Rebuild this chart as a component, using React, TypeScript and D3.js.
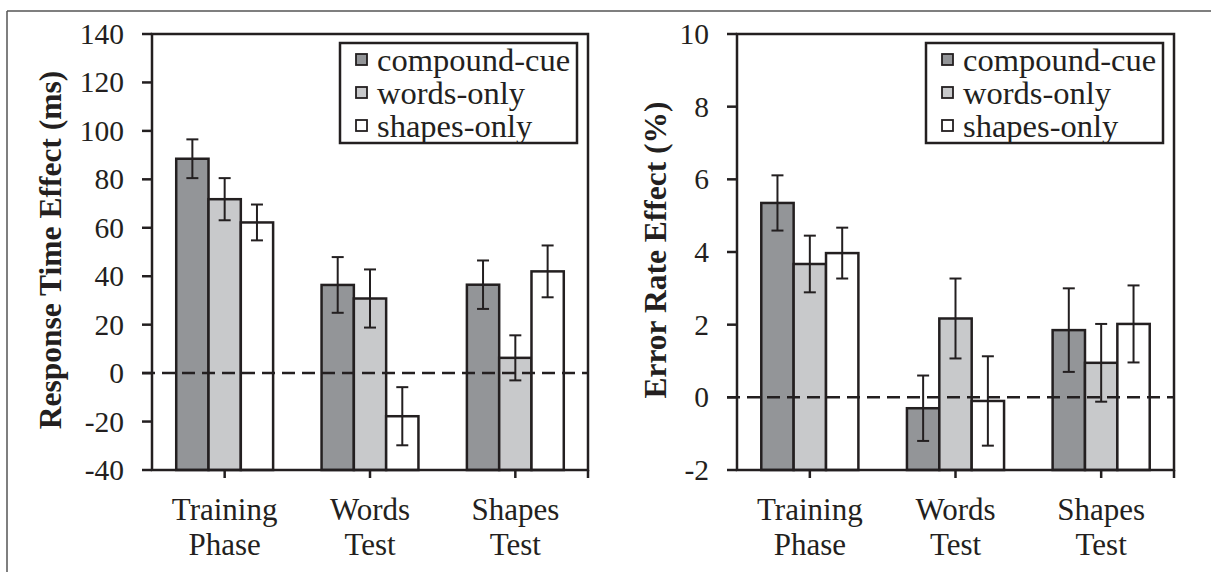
import React from "react";
import * as d3 from "d3";

const categories = ["Training Phase", "Words Test", "Shapes Test"];
const seriesNames = ["compound-cue", "words-only", "shapes-only"];
const seriesColors = ["#939598", "#c8c9cb", "#ffffff"];

// response time effect (ms)
const rtCompound = [88.5, 36.4, 36.5];
const rtWords = [71.8, 30.8, 6.3];
const rtShapes = [62.2, -17.8, 42.0];
const rtCompoundErr = [8.0, 11.5, 10.0];
const rtWordsErr = [8.7, 12.0, 9.3];
const rtShapesErr = [7.4, 12.0, 10.7];
const rtTicks = [-40, -20, 0, 20, 40, 60, 80, 100, 120, 140];

// error rate effect (%)
const erCompound = [5.35, -0.3, 1.85];
const erWords = [3.67, 2.17, 0.95];
const erShapes = [3.97, -0.1, 2.02];
const erCompoundErr = [0.76, 0.9, 1.15];
const erWordsErr = [0.78, 1.1, 1.07];
const erShapesErr = [0.7, 1.23, 1.06];
const erTicks = [-2, 0, 2, 4, 6, 8, 10];

const FONT = "Liberation Serif, Tinos, Times, DejaVu Serif, serif";
const INK = "#231f20";

type PanelProps = {
  left: number;
  right: number;
  top: number;
  bottom: number;
  domain: [number, number];
  ticks: number[];
  title: string;
  titleX: number;
  values: number[][];
  errors: number[][];
};

function Panel(props: PanelProps) {
  const { left, right, top, bottom, domain, ticks, title, titleX, values, errors } = props;
  const y = d3.scaleLinear().domain(domain).range([bottom, top]);
  const x0 = d3.scaleBand().domain(categories).range([left, right]).padding(0);
  const bw = x0.bandwidth();
  // gap width 50% -> bars fill the middle two thirds of each category
  const x1 = d3
    .scaleBand()
    .domain(seriesNames)
    .range([bw / 6, (bw * 5) / 6])
    .padding(0);

  const legendW = 237;
  const legendX = right - 11 - legendW;
  const legendY = top + 9;
  const yb = y(domain[0]);

  return (
    <g>
      {/* bars, drawn up from the axis minimum like excel */}
      {categories.map((c, ci) => (
        <g key={c} transform={`translate(${x0(c)},0)`}>
          {seriesNames.map((s, si) => {
            const yTop = y(values[si][ci]);
            return (
              <rect
                key={s}
                x={x1(s)}
                y={yTop}
                width={x1.bandwidth()}
                height={yb - yTop}
                fill={seriesColors[si]}
                stroke={INK}
                strokeWidth={2.5}
              />
            );
          })}
        </g>
      ))}

      {/* zero line */}
      <line
        x1={left - 10}
        x2={right}
        y1={y(0)}
        y2={y(0)}
        stroke={INK}
        strokeWidth={2.5}
        strokeDasharray="13,7"
      />

      {/* error bars */}
      {categories.map((c, ci) => (
        <g key={c + "err"} transform={`translate(${x0(c)},0)`}>
          {seriesNames.map((s, si) => {
            const cx = (x1(s) as number) + x1.bandwidth() / 2;
            const v = values[si][ci];
            const e = errors[si][ci];
            return (
              <g key={s} stroke={INK} strokeWidth={2}>
                <line x1={cx} x2={cx} y1={y(v + e)} y2={y(v - e)} />
                <line x1={cx - 6} x2={cx + 6} y1={y(v + e)} y2={y(v + e)} />
                <line x1={cx - 6} x2={cx + 6} y1={y(v - e)} y2={y(v - e)} />
              </g>
            );
          })}
        </g>
      ))}

      {/* frame */}
      <rect
        x={left}
        y={top}
        width={right - left}
        height={bottom - top}
        fill="none"
        stroke={INK}
        strokeWidth={2.5}
      />

      {/* y ticks */}
      {ticks.map((t) => (
        <g key={t}>
          <line x1={left - 10} x2={left} y1={y(t)} y2={y(t)} stroke={INK} strokeWidth={2.5} />
          <text
            x={left - 28}
            y={y(t)}
            dy="0.34em"
            textAnchor="end"
            style={{ fontFamily: FONT, fontWeight: 400 }}
            fontSize={29.5}
            fill={INK}
          >
            {t}
          </text>
        </g>
      ))}

      {/* x ticks */}
      {categories.map((c) => (
        <line
          key={c + "tick"}
          x1={(x0(c) as number) + bw / 2}
          x2={(x0(c) as number) + bw / 2}
          y1={bottom}
          y2={bottom + 8}
          stroke={INK}
          strokeWidth={2.5}
        />
      ))}
      <line x1={right} x2={right} y1={bottom} y2={bottom + 8} stroke={INK} strokeWidth={2.5} />

      {/* x labels */}
      {categories.map((c) => {
        const parts = c.split(" ");
        return (
          <text
            key={c + "lbl"}
            x={(x0(c) as number) + bw / 2}
            y={bottom + 50}
            textAnchor="middle"
            style={{ fontFamily: FONT, fontWeight: 400 }}
            fontSize={31}
            fill={INK}
          >
            {parts.map((p, i) => (
              <tspan key={p} x={(x0(c) as number) + bw / 2} dy={i === 0 ? 0 : 35}>
                {p}
              </tspan>
            ))}
          </text>
        );
      })}

      {/* y title */}
      <text
        transform={`translate(${titleX},${(top + bottom) / 2 - 2}) rotate(-90)`}
        textAnchor="middle"
        dy="0.35em"
        style={{ fontFamily: FONT, fontWeight: 700 }}
        fontSize={31.5}
        fill={INK}
      >
        {title}
      </text>

      {/* legend */}
      <rect
        x={legendX}
        y={legendY}
        width={legendW}
        height={100}
        fill="#ffffff"
        stroke={INK}
        strokeWidth={2.5}
      />
      {seriesNames.map((s, i) => (
        <g key={s + "leg"}>
          <rect
            x={legendX + 16}
            y={legendY + 11 + i * 33}
            width={11}
            height={11}
            fill={seriesColors[i]}
            stroke={INK}
            strokeWidth={1.8}
          />
          <text
            x={legendX + 37}
            y={legendY + 17 + i * 33}
            dy="0.34em"
            style={{ fontFamily: FONT, fontWeight: 400 }}
            fontSize={32.5}
            fill={INK}
          >
            {s}
          </text>
        </g>
      ))}
    </g>
  );
}

export default function App() {
  return (
    <svg
      width={1211}
      height={572}
      style={{ position: "absolute", left: 0, top: 0, background: "#ffffff" }}
    >
      <rect x={0} y={0} width={1211} height={572} fill="#ffffff" />
      {/* outer figure frame */}
      <line x1={7} x2={1211} y1={11} y2={11} stroke="#555" strokeWidth={1.5} />
      <line x1={7} x2={7} y1={11} y2={572} stroke="#555" strokeWidth={1.5} />

      <Panel
        left={152}
        right={588}
        top={34}
        bottom={470}
        domain={[-40, 140]}
        ticks={rtTicks}
        title="Response Time Effect (ms)"
        titleX={50}
        values={[rtCompound, rtWords, rtShapes]}
        errors={[rtCompoundErr, rtWordsErr, rtShapesErr]}
      />
      <Panel
        left={737}
        right={1174}
        top={34}
        bottom={470}
        domain={[-2, 10]}
        ticks={erTicks}
        title="Error Rate Effect (%)"
        titleX={655}
        values={[erCompound, erWords, erShapes]}
        errors={[erCompoundErr, erWordsErr, erShapesErr]}
      />
    </svg>
  );
}
